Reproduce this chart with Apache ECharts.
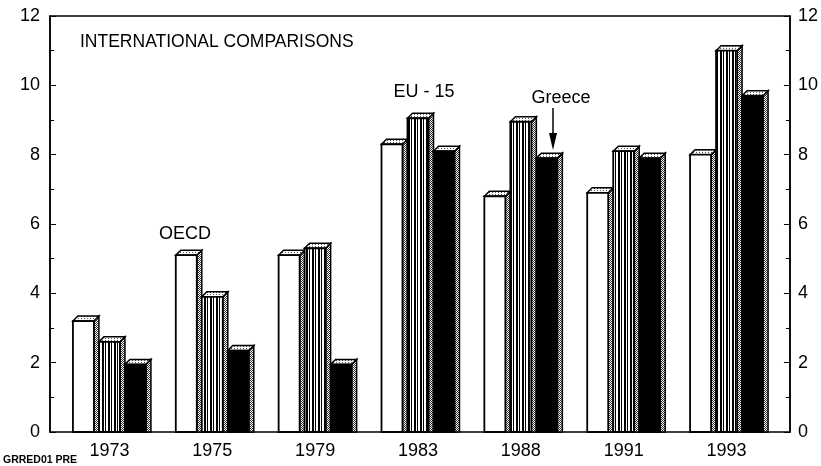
<!DOCTYPE html>
<html>
<head>
<meta charset="utf-8">
<script src="https://cdn.jsdelivr.net/npm/echarts@6/dist/echarts.min.js"></script>
<style>
html,body{margin:0;padding:0;background:#fff;}
#chart{width:821px;height:466px;}
</style>
</head>
<body>
<div id="chart"></div>
<script>
// ---- data ----
const categories = ['1973', '1975', '1979', '1983', '1988', '1991', '1993'];
const oecd   = [3.2, 5.1, 5.1, 8.3, 6.8, 6.9, 8.0];
const eu15   = [2.6, 3.9, 5.3, 9.05, 8.95, 8.1, 11.0];
const greece = [1.95, 2.35, 1.95, 8.1, 7.9, 7.9, 9.7];
const seriesNames = ['OECD', 'EU - 15', 'Greece'];
const yMin = 0, yMax = 12, yInterval = 2;
const titleText = 'INTERNATIONAL COMPARISONS';
const footText = 'GRRED01 PRE';

function makePattern(w, h, draw) {
  const c = document.createElement('canvas');
  c.width = w; c.height = h;
  const g = c.getContext('2d');
  draw(g);
  return {image: c, repeat: 'repeat'};
}
const stripeFill = makePattern(6, 4, g => {
  g.fillStyle = '#fff'; g.fillRect(0, 0, 6, 4);
  g.fillStyle = '#000';
  g.fillRect(0, 0, 2, 4);
  g.fillRect(3, 0, 1, 4);
});
const sideFill = makePattern(2, 2, g => {
  g.fillStyle = '#fff'; g.fillRect(0, 0, 2, 2);
  g.fillStyle = '#333';
  g.fillRect(0, 0, 1, 1);
  g.fillRect(1, 1, 1, 1);
});
const topFill = makePattern(3, 2, g => {
  g.fillStyle = '#fff'; g.fillRect(0, 0, 3, 2);
  g.fillStyle = '#555';
  g.fillRect(0, 0, 1, 1);
});

const FONT = 'Liberation Sans, Arial, sans-serif';
const chart = echarts.init(document.getElementById('chart'), null, {renderer: 'canvas'});

const FACE_W = 21, DEPTH = 5, PITCH = 26, NSER = 3;
const frontFills = ['#fff', stripeFill, '#000'];

function make3DRender(k) {
  return function (params, api) {
    const ci = api.value(0);
    const top = api.coord([ci, api.value(1)]);
    const base = api.coord([ci, 0]);
    const groupW = (NSER - 1) * PITCH + FACE_W;
    const x = top[0] - groupW / 2 + k * PITCH;
    const y = top[1];
    const b = base[1];
    const w = FACE_W, d = DEPTH;
    return {
      type: 'group',
      children: [
        {type: 'polygon', shape: {points: [[x + w, y], [x + w + d, y - d], [x + w + d, b], [x + w, b]]},
         style: {fill: sideFill, stroke: '#000', lineWidth: 1.5}},
        {type: 'polygon', shape: {points: [[x, y], [x + d, y - d], [x + w + d, y - d], [x + w, y]]},
         style: {fill: topFill, stroke: '#000', lineWidth: 1.5}},
        {type: 'rect', shape: {x: x, y: y, width: w, height: b - y},
         style: {fill: frontFills[k], stroke: '#000', lineWidth: 1.8}}
      ]
    };
  };
}

function toPairs(arr) { return arr.map((v, i) => [i, v]); }

const option = {
  animation: false,
  backgroundColor: '#fff',
  grid: [
    {left: 50, right: 30, top: 16, bottom: 34, show: true, borderColor: '#000', borderWidth: 1.5, backgroundColor: 'transparent'},
    {left: 58, right: 43, top: 16, bottom: 34}
  ],
  xAxis: [
    {gridIndex: 0, type: 'category', data: categories, show: false},
    {gridIndex: 1, type: 'category', data: categories,
     axisLine: {show: false}, axisTick: {show: false},
     axisLabel: {fontFamily: FONT, fontSize: 18, color: '#000', margin: 10}}
  ],
  yAxis: [
    {gridIndex: 0, type: 'value', min: yMin, max: yMax, interval: yInterval, position: 'left',
     axisLine: {show: true, lineStyle: {color: '#000', width: 1.5}},
     axisTick: {show: true, inside: true, length: 6, lineStyle: {color: '#000'}},
     minorTick: {show: true, splitNumber: 2, length: 4, lineStyle: {color: '#000'}},
     splitLine: {show: false},
     axisLabel: {fontFamily: FONT, fontSize: 18, color: '#000', margin: 10}},
    {gridIndex: 0, type: 'value', min: yMin, max: yMax, interval: yInterval, position: 'right',
     axisLine: {show: true, lineStyle: {color: '#000', width: 1.5}},
     axisTick: {show: true, inside: true, length: 6, lineStyle: {color: '#000'}},
     minorTick: {show: true, splitNumber: 2, length: 4, lineStyle: {color: '#000'}},
     splitLine: {show: false},
     axisLabel: {fontFamily: FONT, fontSize: 18, color: '#000', margin: 8}},
    {gridIndex: 1, type: 'value', min: yMin, max: yMax, interval: yInterval, show: false}
  ],
  series: [oecd, eu15, greece].map((arr, k) => ({
    name: seriesNames[k], type: 'custom', xAxisIndex: 1, yAxisIndex: 2,
    renderItem: make3DRender(k), encode: {x: 0, y: 1}, data: toPairs(arr), z: 2 + k
  })),
  graphic: [
    {type: 'text', left: 80, top: 33, style: {text: titleText, font: '17.5px ' + FONT, fill: '#000'}},
    {type: 'text', x: 185, y: 234, style: {text: seriesNames[0], font: '18px ' + FONT, fill: '#000', align: 'center', verticalAlign: 'middle'}},
    {type: 'text', x: 424, y: 92, style: {text: seriesNames[1], font: '18px ' + FONT, fill: '#000', align: 'center', verticalAlign: 'middle'}},
    {type: 'text', x: 561, y: 98, style: {text: seriesNames[2], font: '18px ' + FONT, fill: '#000', align: 'center', verticalAlign: 'middle'}},
    {type: 'line', shape: {x1: 553, y1: 108, x2: 553, y2: 140}, style: {stroke: '#000', lineWidth: 1.5}},
    {type: 'polygon', shape: {points: [[549, 133], [557, 133], [553, 150]]}, style: {fill: '#000'}},
    {type: 'text', left: 3, top: 455, style: {text: footText, font: 'bold 10.5px ' + FONT, fill: '#000'}}
  ]
};
chart.setOption(option);
</script>
</body>
</html>
